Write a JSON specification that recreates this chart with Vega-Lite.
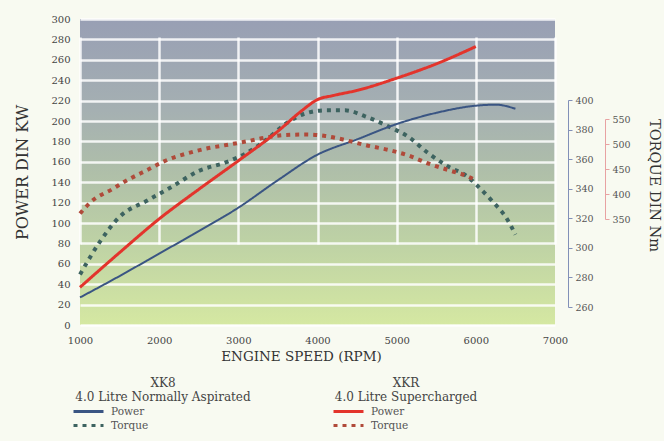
{
  "$schema": "https://vega.github.io/schema/vega-lite/v6.json",
  "width": 475,
  "height": 306,
  "autosize": {"type": "none"},
  "padding": {"left": 80, "top": 19, "right": 109, "bottom": 116},
  "background": "#f8faf1",
  "view": {
    "stroke": null,
    "fill": {
      "gradient": "linear", "x1": 0, "y1": 0, "x2": 0, "y2": 1,
      "stops": [
        {"offset": 0, "color": "#989fb4"},
        {"offset": 0.3, "color": "#a5b0b2"},
        {"offset": 0.5, "color": "#afbfa9"},
        {"offset": 0.72, "color": "#bdd1a5"},
        {"offset": 1, "color": "#d5e8a2"}
      ]
    }
  },
  "config": {
    "font": "DejaVu Serif",
    "axis": {"labelFont": "DejaVu Serif", "titleFont": "DejaVu Serif", "titleFontWeight": "normal", "labelColor": "#444", "titleColor": "#333", "labelFlush": false},
    "legend": {"labelFont": "DejaVu Serif", "titleFont": "DejaVu Serif", "titleFontWeight": "normal"}
  },
  "datasets": {
    "xk8_power": [
      {"rpm": 1000, "kw": 27, "series": "Power"}, {"rpm": 1500, "kw": 48, "series": "Power"},
      {"rpm": 2000, "kw": 70, "series": "Power"}, {"rpm": 2500, "kw": 92, "series": "Power"},
      {"rpm": 3000, "kw": 115, "series": "Power"}, {"rpm": 3500, "kw": 142, "series": "Power"},
      {"rpm": 4000, "kw": 167, "series": "Power"}, {"rpm": 4500, "kw": 182, "series": "Power"},
      {"rpm": 5000, "kw": 197, "series": "Power"}, {"rpm": 5500, "kw": 208, "series": "Power"},
      {"rpm": 6000, "kw": 215, "series": "Power"}, {"rpm": 6250, "kw": 216, "series": "Power"},
      {"rpm": 6500, "kw": 212, "series": "Power"}
    ],
    "xk8_torque": [
      {"rpm": 1000, "nm": 282, "series": "Torque"}, {"rpm": 1250, "nm": 304, "series": "Torque"},
      {"rpm": 1500, "nm": 321, "series": "Torque"}, {"rpm": 1850, "nm": 332, "series": "Torque"},
      {"rpm": 2150, "nm": 341, "series": "Torque"}, {"rpm": 2500, "nm": 352, "series": "Torque"},
      {"rpm": 2850, "nm": 358, "series": "Torque"}, {"rpm": 3100, "nm": 364, "series": "Torque"},
      {"rpm": 3350, "nm": 373, "series": "Torque"}, {"rpm": 3600, "nm": 384, "series": "Torque"},
      {"rpm": 3850, "nm": 391, "series": "Torque"}, {"rpm": 4100, "nm": 393, "series": "Torque"},
      {"rpm": 4350, "nm": 393, "series": "Torque"}, {"rpm": 4600, "nm": 389, "series": "Torque"},
      {"rpm": 4900, "nm": 382, "series": "Torque"}, {"rpm": 5150, "nm": 375, "series": "Torque"},
      {"rpm": 5400, "nm": 364, "series": "Torque"}, {"rpm": 5650, "nm": 355, "series": "Torque"},
      {"rpm": 5900, "nm": 348, "series": "Torque"}, {"rpm": 6000, "nm": 343, "series": "Torque"},
      {"rpm": 6200, "nm": 332, "series": "Torque"}, {"rpm": 6400, "nm": 319, "series": "Torque"},
      {"rpm": 6500, "nm": 309, "series": "Torque"}
    ],
    "xkr_power": [
      {"rpm": 1000, "kw": 37, "series": "Power"}, {"rpm": 1500, "kw": 71, "series": "Power"},
      {"rpm": 2000, "kw": 104, "series": "Power"}, {"rpm": 2500, "kw": 133, "series": "Power"},
      {"rpm": 3000, "kw": 161, "series": "Power"}, {"rpm": 3500, "kw": 190, "series": "Power"},
      {"rpm": 3800, "kw": 210, "series": "Power"}, {"rpm": 4000, "kw": 221, "series": "Power"},
      {"rpm": 4200, "kw": 225, "series": "Power"}, {"rpm": 4500, "kw": 230, "series": "Power"},
      {"rpm": 5000, "kw": 242, "series": "Power"}, {"rpm": 5500, "kw": 256, "series": "Power"},
      {"rpm": 6000, "kw": 273, "series": "Power"}
    ],
    "xkr_torque": [
      {"rpm": 1000, "nm": 361, "series": "Torque"}, {"rpm": 1150, "nm": 386, "series": "Torque"},
      {"rpm": 1400, "nm": 409, "series": "Torque"}, {"rpm": 1600, "nm": 428, "series": "Torque"},
      {"rpm": 1850, "nm": 448, "series": "Torque"}, {"rpm": 2100, "nm": 468, "series": "Torque"},
      {"rpm": 2350, "nm": 481, "series": "Torque"}, {"rpm": 2600, "nm": 491, "series": "Torque"},
      {"rpm": 2850, "nm": 498, "series": "Torque"}, {"rpm": 3100, "nm": 505, "series": "Torque"},
      {"rpm": 3350, "nm": 513, "series": "Torque"}, {"rpm": 3600, "nm": 518, "series": "Torque"},
      {"rpm": 3850, "nm": 519, "series": "Torque"}, {"rpm": 4100, "nm": 516, "series": "Torque"},
      {"rpm": 4350, "nm": 508, "series": "Torque"}, {"rpm": 4600, "nm": 498, "series": "Torque"},
      {"rpm": 4900, "nm": 488, "series": "Torque"}, {"rpm": 5150, "nm": 477, "series": "Torque"},
      {"rpm": 5400, "nm": 461, "series": "Torque"}, {"rpm": 5650, "nm": 448, "series": "Torque"},
      {"rpm": 5900, "nm": 435, "series": "Torque"}, {"rpm": 6000, "nm": 427, "series": "Torque"}
    ]
  },
  "layer": [
    {
      "layer": [
        {
          "data": {"name": "xk8_torque"},
          "mark": {"type": "line", "interpolate": "monotone", "strokeWidth": 4, "strokeCap": "butt"},
          "encoding": {
            "x": {"field": "rpm", "type": "quantitative", "scale": {"domain": [1000, 7000], "nice": false},
              "axis": {"values": [1000, 2000, 3000, 4000, 5000, 6000, 7000], "format": "d", "grid": true, "gridColor": "#ffffff", "gridWidth": 2.5, "gridOpacity": 0.85, "domain": false, "ticks": false, "labelPadding": 10, "labelFontSize": 10, "title": "ENGINE SPEED (RPM)", "titleFontSize": 13.5, "titlePadding": 4, "titleX": 221}},
            "y": {"field": "nm", "type": "quantitative", "scale": {"domain": [260, 400], "range": [288, 81], "nice": false, "zero": false},
              "axis": {"orient": "right", "offset": 13, "values": [260, 280, 300, 320, 340, 360, 380, 400], "grid": false, "domainColor": "#8290b8", "tickColor": "#8290b8", "tickSize": 4, "labelPadding": 3, "labelFontSize": 9.5, "labelColor": "#555", "title": null}},
            "stroke": {"field": "series", "type": "nominal", "scale": {"domain": ["Power", "Torque"], "range": ["#3a5583", "#3d6360"]},
              "legend": {"title": ["XK8", "4.0 Litre Normally Aspirated"], "orient": "none", "legendX": -8, "legendY": 359, "titleAnchor": "middle", "titleAlign": "center", "titleFontSize": 12, "titleLineHeight": 14, "titleColor": "#444", "titlePadding": 0, "labelFontSize": 10.5, "labelColor": "#555", "labelOffset": 24, "symbolType": "M-1,0H4M28.2,0", "symbolSize": 144, "symbolStrokeWidth": 3, "rowPadding": 0}},
            "strokeDash": {"field": "series", "type": "nominal", "scale": {"domain": ["Power", "Torque"], "range": [[1, 0], [4, 5]]},
              "legend": {"title": ["XK8", "4.0 Litre Normally Aspirated"], "orient": "none", "legendX": -8, "legendY": 359, "titleAnchor": "middle", "titleAlign": "center", "titleFontSize": 12, "titleLineHeight": 14, "titleColor": "#444", "titlePadding": 0, "labelFontSize": 10.5, "labelColor": "#555", "labelOffset": 24, "symbolType": "M-1,0H4M28.2,0", "symbolSize": 144, "symbolStrokeWidth": 3, "rowPadding": 0}}
          }
        },
        {
          "data": {"name": "xk8_power"},
          "mark": {"type": "line", "interpolate": "monotone", "strokeWidth": 2},
          "encoding": {
            "x": {"field": "rpm", "type": "quantitative"},
            "y": {"field": "kw", "type": "quantitative", "scale": {"domain": [0, 300], "nice": false},
              "axis": {"orient": "left", "values": [0, 20, 40, 60, 80, 100, 120, 140, 160, 180, 200, 220, 240, 260, 280, 300], "grid": true, "gridColor": "#ffffff", "gridWidth": 2.5, "gridOpacity": 0.85, "domain": false, "ticks": false, "labelPadding": 10, "labelFontSize": 10, "title": "POWER DIN KW", "titleFontSize": 16, "titlePadding": 20}},
            "stroke": {"field": "series", "type": "nominal"},
            "strokeDash": {"field": "series", "type": "nominal"}
          }
        }
      ],
      "resolve": {"scale": {"y": "independent"}}
    },
    {
      "layer": [
        {
          "data": {"name": "xkr_torque"},
          "mark": {"type": "line", "interpolate": "monotone", "strokeWidth": 4, "strokeCap": "butt"},
          "encoding": {
            "x": {"field": "rpm", "type": "quantitative"},
            "y": {"field": "nm", "type": "quantitative", "scale": {"domain": [350, 550], "range": [200, 100], "nice": false, "zero": false},
              "axis": {"orient": "right", "offset": 50, "values": [350, 400, 450, 500, 550], "grid": false, "domainColor": "#e8a2a2", "tickColor": "#e8a2a2", "tickSize": 4, "labelPadding": 3, "labelFontSize": 9.5, "labelColor": "#555", "title": "TORQUE DIN Nm", "titleAngle": 90, "titleFontSize": 14.5, "titlePadding": 16, "titleY": 166}},
            "stroke": {"field": "series", "type": "nominal", "scale": {"domain": ["Power", "Torque"], "range": ["#e3342c", "#b04a3a"]},
              "legend": {"title": ["XKR", "4.0 Litre Supercharged"], "orient": "none", "legendX": 252, "legendY": 359, "titleAnchor": "middle", "titleAlign": "center", "titleFontSize": 12, "titleLineHeight": 14, "titleColor": "#444", "titlePadding": 0, "labelFontSize": 10.5, "labelColor": "#555", "labelOffset": 24, "symbolType": "M-1,0H4M22.3,0", "symbolSize": 144, "symbolStrokeWidth": 3, "rowPadding": 0}},
            "strokeDash": {"field": "series", "type": "nominal", "scale": {"domain": ["Power", "Torque"], "range": [[1, 0], [4, 5]]},
              "legend": {"title": ["XKR", "4.0 Litre Supercharged"], "orient": "none", "legendX": 252, "legendY": 359, "titleAnchor": "middle", "titleAlign": "center", "titleFontSize": 12, "titleLineHeight": 14, "titleColor": "#444", "titlePadding": 0, "labelFontSize": 10.5, "labelColor": "#555", "labelOffset": 24, "symbolType": "M-1,0H4M22.3,0", "symbolSize": 144, "symbolStrokeWidth": 3, "rowPadding": 0}}
          }
        },
        {
          "data": {"name": "xkr_power"},
          "mark": {"type": "line", "interpolate": "monotone", "strokeWidth": 3},
          "encoding": {
            "x": {"field": "rpm", "type": "quantitative"},
            "y": {"field": "kw", "type": "quantitative", "scale": {"domain": [0, 300], "nice": false}, "axis": null},
            "stroke": {"field": "series", "type": "nominal"},
            "strokeDash": {"field": "series", "type": "nominal"}
          }
        }
      ],
      "resolve": {"scale": {"y": "independent"}}
    }
  ],
  "resolve": {"scale": {"y": "independent", "stroke": "independent", "strokeDash": "independent"}}
}
